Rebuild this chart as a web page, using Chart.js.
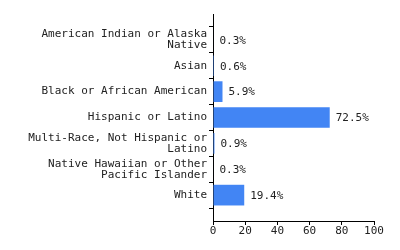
<!DOCTYPE html>
<html>
<head>
<meta charset="utf-8">
<script src="https://cdn.jsdelivr.net/npm/chart.js@4"></script>
<style>
  html, body { margin: 0; padding: 0; background: #fff; }
  #chart { display: block; }
</style>
</head>
<body>
<canvas id="chart" width="400" height="250"></canvas>
<script>
"use strict";

// ─── Data ──────────────────────────────────────────────────────────────────

const CATEGORIES = [
  ["American Indian or Alaska", "Native"],
  "Asian",
  "Black or African American",
  "Hispanic or Latino",
  ["Multi-Race, Not Hispanic or", "Latino"],
  ["Native Hawaiian or Other", "Pacific Islander"],
  "White",
];

const PERCENTS = [0.3, 0.6, 5.9, 72.5, 0.9, 0.3, 19.4];

const X_MIN = 0;
const X_MAX = 100;
const X_STEP = 20;

// ─── Styles ────────────────────────────────────────────────────────────────

const FONT = { family: "'DejaVu Sans Mono', monospace", size: 11, lineHeight: 1 };
const TEXT_COLOR = "#222";
const AXIS_COLOR = "#000";
const BAR_COLOR = "#4285f4";

// blank slots above and below so the axis ends on a tick
const labels = ["", ...CATEGORIES, ""];
const values = [null, ...PERCENTS, null];

// ─── Value labels ──────────────────────────────────────────────────────────

const valueLabels = {
  id: "valueLabels",
  afterDatasetsDraw(chart) {
    const ctx = chart.ctx;
    const meta = chart.getDatasetMeta(0);
    ctx.save();
    ctx.font = `${FONT.size}px ${FONT.family}`;
    ctx.fillStyle = TEXT_COLOR;
    ctx.textAlign = "left";
    ctx.textBaseline = "middle";
    meta.data.forEach((bar, i) => {
      const v = values[i];
      if (v == null) return;
      ctx.fillText(`${v.toFixed(1)}%`, bar.x + 6, bar.y + 1);
    });
    ctx.restore();
  },
};

// ─── Chart ─────────────────────────────────────────────────────────────────

new Chart(document.getElementById("chart").getContext("2d"), {
  type: "bar",
  data: {
    labels,
    datasets: [
      {
        data: values,
        backgroundColor: BAR_COLOR,
        categoryPercentage: 1,
        barPercentage: 0.8,
      },
    ],
  },
  options: {
    indexAxis: "y",
    responsive: false,
    animation: false,
    devicePixelRatio: 1,
    layout: { padding: { top: 14, right: 26, bottom: 0, left: 0 } },
    scales: {
      y: {
        offset: false,
        grid: { drawOnChartArea: false, tickLength: 4, color: AXIS_COLOR },
        border: { display: true, color: AXIS_COLOR },
        ticks: { color: TEXT_COLOR, font: FONT, padding: 2, autoSkip: false },
        afterFit(scale) { scale.width = 213; },
      },
      x: {
        min: X_MIN,
        max: X_MAX,
        grid: { drawOnChartArea: false, tickLength: 4, color: AXIS_COLOR },
        border: { display: true, color: AXIS_COLOR },
        ticks: { stepSize: X_STEP, color: TEXT_COLOR, font: FONT, padding: 1 },
        afterFit(scale) { scale.height = 29; },
      },
    },
    plugins: {
      legend: { display: false },
      tooltip: { enabled: false },
    },
  },
  plugins: [valueLabels],
});
</script>
</body>
</html>
